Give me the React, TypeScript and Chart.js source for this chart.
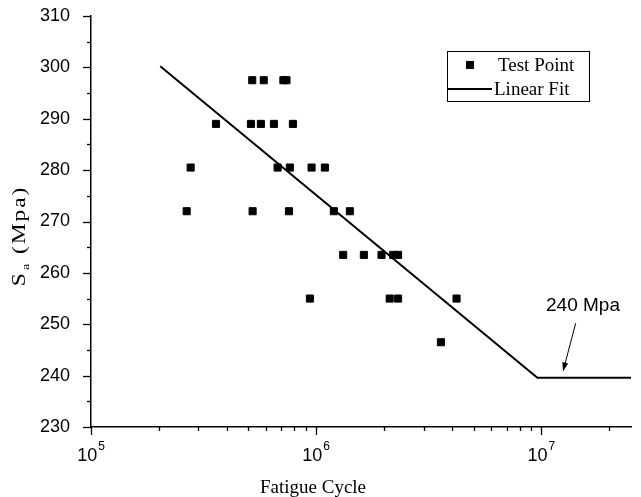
import { useEffect, useRef } from 'react';
import { Chart, registerables } from 'chart.js';

Chart.register(...registerables);

// ---- data ----
const testCycles = [
  5.2e5, 5.85e5, 7.15e5, 7.38e5,
  3.59e5, 5.13e5, 5.68e5, 6.49e5, 7.88e5,
  2.77e5, 6.74e5, 7.64e5, 9.54e5, 1.093e6,
  2.66e5, 5.22e5, 7.57e5, 1.198e6, 1.411e6,
  1.318e6, 1.628e6, 1.95e6, 2.197e6, 2.31e6,
  9.38e5, 2.12e6, 2.31e6, 4.2e6,
  3.58e6,
];
const testStress = [
  297.5, 297.5, 297.5, 297.5,
  289, 289, 289, 289, 289,
  280.5, 280.5, 280.5, 280.5, 280.5,
  272, 272, 272, 272, 272,
  263.5, 263.5, 263.5, 263.5, 263.5,
  255, 255, 255, 255,
  246.5,
];
const fitCycles = [2.03e5, 9.6e6, 2.5e7];
const fitStress = [300.2, 239.6, 239.6];

const yMin = 230;
const yMax = 310;
const yStep = 10;
const xMin = 1e5;
const xMax = 2.5e7;
const xMajorTicks = [1e5, 1e6, 1e7];

const xTitle = 'Fatigue Cycle';
const yTitleMain = 'S';
const yTitleSub = 'a';
const yTitleRest = ' (Mpa)';

const annotationText = '240 Mpa';
const annotationAt = { x: 1.53e7, y: 253.6 };
const arrowFrom = { x: 1.42e7, y: 250.2 };
const arrowTo = { x: 1.247e7, y: 240.8 };

const legendLabels = ['Test Point', 'Linear Fit'];

const SANS = '"Liberation Sans", Arial, sans-serif';
const SERIF = '"Liberation Serif", "Times New Roman", serif';

const decorPlugin = {
  id: 'decor',
  afterDraw(chart: any) {
    const { ctx, chartArea, scales } = chart;
    const x = scales.x;
    const y = scales.y;
    ctx.save();
    ctx.strokeStyle = '#000';
    ctx.fillStyle = '#000';
    ctx.lineWidth = 1.3;
    // y ticks (outward)
    for (let v = yMin; v <= yMax + 1e-9; v += yStep / 2) {
      const py = Math.round(y.getPixelForValue(v)) + 0.5;
      const major = Math.abs((v - yMin) % yStep) < 1e-6;
      const len = major ? 8 : 4;
      ctx.beginPath();
      ctx.moveTo(chartArea.left - len, py);
      ctx.lineTo(chartArea.left, py);
      ctx.stroke();
    }
    // x ticks (outward)
    for (let e = 5; e <= 7; e++) {
      for (let m = 1; m <= 9; m++) {
        const v = m * Math.pow(10, e);
        if (v > xMax * 1.0001) continue;
        const px = Math.round(x.getPixelForValue(v)) + 0.5;
        const len = m === 1 ? 8 : 4;
        ctx.beginPath();
        ctx.moveTo(px, chartArea.bottom);
        ctx.lineTo(px, chartArea.bottom + len);
        ctx.stroke();
      }
    }

    // x tick labels: 10^n with raised exponent
    ctx.textBaseline = 'alphabetic';
    ctx.textAlign = 'left';
    for (const v of xMajorTicks) {
      const e = String(Math.round(Math.log10(v)));
      ctx.font = `18px ${SANS}`;
      const bw = ctx.measureText('10').width;
      ctx.font = `12px ${SANS}`;
      const ew = ctx.measureText(e).width;
      const px = x.getPixelForValue(v);
      const left = px - (bw + ew + 1) / 2;
      ctx.font = `18px ${SANS}`;
      ctx.fillText('10', left, chartArea.bottom + 34);
      ctx.font = `12px ${SANS}`;
      ctx.fillText(e, left + bw + 1, chartArea.bottom + 23);
    }

    // x title
    ctx.font = `19px ${SERIF}`;
    ctx.textAlign = 'center';
    ctx.textBaseline = 'middle';
    ctx.fillText(xTitle, 313, 488);

    // y-axis title with subscript (elongated like the source)
    ctx.save();
    ctx.translate(20, 236);
    ctx.rotate(-Math.PI / 2);
    ctx.scale(1.3, 1);
    try { (ctx as any).letterSpacing = '1.5px'; } catch (err) { /* ignore */ }
    ctx.textBaseline = 'middle';
    ctx.textAlign = 'left';
    ctx.font = `18px ${SERIF}`;
    const sW = ctx.measureText(yTitleMain).width;
    ctx.font = `11px ${SERIF}`;
    const aW = ctx.measureText(yTitleSub).width;
    ctx.font = `18px ${SERIF}`;
    const restW = ctx.measureText(yTitleRest).width;
    const total = sW + 1 + aW + restW;
    let cx = -total / 2;
    ctx.fillText(yTitleMain, cx, 0);
    cx += sW + 1;
    ctx.font = `11px ${SERIF}`;
    ctx.fillText(yTitleSub, cx, 6);
    cx += aW;
    ctx.font = `18px ${SERIF}`;
    ctx.fillText(yTitleRest, cx, 0);
    try { (ctx as any).letterSpacing = '0px'; } catch (err) { /* ignore */ }
    ctx.restore();

    // annotation
    ctx.font = `19px ${SANS}`;
    ctx.textAlign = 'center';
    ctx.textBaseline = 'middle';
    ctx.fillText(annotationText, x.getPixelForValue(annotationAt.x), y.getPixelForValue(annotationAt.y));
    const ax0 = x.getPixelForValue(arrowFrom.x);
    const ay0 = y.getPixelForValue(arrowFrom.y);
    const ax1 = x.getPixelForValue(arrowTo.x);
    const ay1 = y.getPixelForValue(arrowTo.y);
    const ang = Math.atan2(ay1 - ay0, ax1 - ax0);
    const hl = 9;
    const hw = 3;
    ctx.lineWidth = 1;
    ctx.beginPath();
    ctx.moveTo(ax0, ay0);
    ctx.lineTo(ax1 - Math.cos(ang) * hl * 0.8, ay1 - Math.sin(ang) * hl * 0.8);
    ctx.stroke();
    ctx.beginPath();
    ctx.moveTo(ax1, ay1);
    ctx.lineTo(ax1 - Math.cos(ang) * hl - Math.sin(ang) * hw, ay1 - Math.sin(ang) * hl + Math.cos(ang) * hw);
    ctx.lineTo(ax1 - Math.cos(ang) * hl + Math.sin(ang) * hw, ay1 - Math.sin(ang) * hl - Math.cos(ang) * hw);
    ctx.closePath();
    ctx.fill();

    // legend box
    const lx = 447;
    const ly = 51;
    const lw = 142;
    const lh = 50;
    ctx.lineWidth = 1;
    ctx.strokeStyle = '#000';
    ctx.strokeRect(lx + 0.5, ly + 0.5, lw, lh);
    ctx.font = `19px ${SERIF}`;
    ctx.textAlign = 'left';
    ctx.textBaseline = 'middle';
    const r1 = ly + 14;
    ctx.fillRect(470 - 4, r1 - 4, 8, 8);
    ctx.fillText(legendLabels[0], 498, r1 + 1);
    const r2 = ly + 38;
    ctx.lineWidth = 2;
    ctx.beginPath();
    ctx.moveTo(lx, r2);
    ctx.lineTo(492, r2);
    ctx.stroke();
    ctx.fillText(legendLabels[1], 494, r2 + 1);
    ctx.restore();
  },
};

export default function App() {
  const ref = useRef<HTMLCanvasElement | null>(null);
  useEffect(() => {
    if (!ref.current) return;
    const chart = new Chart(ref.current, {
      type: 'scatter',
      data: {
        datasets: [
          {
            label: legendLabels[0],
            data: testCycles.map((c, i) => ({ x: c, y: testStress[i] })),
            pointStyle: 'rect',
            pointRadius: 5,
            pointBorderWidth: 1,
            backgroundColor: '#000',
            borderColor: '#000',
            showLine: false,
          },
          {
            label: legendLabels[1],
            data: fitCycles.map((c, i) => ({ x: c, y: fitStress[i] })),
            showLine: true,
            pointRadius: 0,
            borderColor: '#000',
            borderWidth: 2,
            backgroundColor: '#000',
          },
        ],
      },
      options: {
        animation: false,
        responsive: false,
        events: [],
        layout: { padding: { top: 16, right: 10, left: 0, bottom: 0 } },
        plugins: {
          legend: { display: false },
          tooltip: { enabled: false },
        },
        scales: {
          x: {
            type: 'logarithmic',
            min: xMin,
            max: xMax,
            grid: { display: false },
            border: { display: true, color: '#000', width: 1.5 },
            afterBuildTicks: (scale: any) => {
              scale.ticks = xMajorTicks.map((v) => ({ value: v }));
            },
            afterFit: (scale: any) => {
              scale.height = 70;
              scale.paddingLeft = 0;
              scale.paddingRight = 0;
            },
            ticks: { display: false },
            title: { display: false },
          },
          y: {
            type: 'linear',
            min: yMin,
            max: yMax,
            grid: { display: false },
            border: { display: true, color: '#000', width: 1.5 },
            afterFit: (scale: any) => {
              scale.width = 91;
              scale.paddingTop = 0;
              scale.paddingBottom = 0;
            },
            ticks: {
              stepSize: yStep,
              padding: 13,
              color: '#000',
              font: { size: 18, family: SANS },
            },
            title: { display: false },
          },
        },
      },
      plugins: [decorPlugin],
    });
    return () => chart.destroy();
  }, []);
  return (
    <div style={{ position: 'fixed', left: 0, top: 0, width: 641, height: 497, background: '#fff' }}>
      <canvas ref={ref} width={641} height={497} />
    </div>
  );
}
